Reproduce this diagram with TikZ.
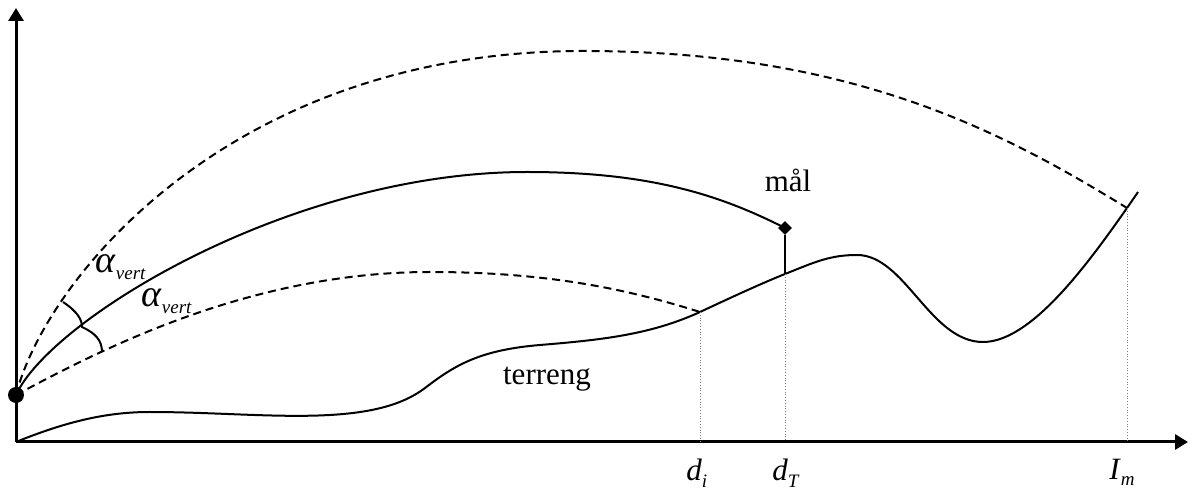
\documentclass[tikz,border=0pt]{standalone}
\usepackage{fontspec}
\setmainfont{Liberation Serif}
\usetikzlibrary{arrows.meta,shapes.geometric}
\newcommand{\idx}[2]{\textit{#1}\raisebox{-3pt}{\fontsize{9.5}{10}\selectfont\textit{#2}}}
\newcommand{\alphavert}{{\fontsize{19}{20}\selectfont\textit{α}}\raisebox{-3.5pt}{\fontsize{9.5}{10}\selectfont\textit{vert}}}
\begin{document}
\begin{tikzpicture}[x=0.5pt,y=-0.5pt,
    axis/.style={line width=1.5pt,-{Triangle[length=6.5pt,width=7.5pt]}},
    curve/.style={line width=1pt},
    traj/.style={line width=1pt,dash pattern=on 4pt off 2.5pt},
    guide/.style={gray,line width=0.4pt,densely dotted},
    lbl/.style={font=\fontsize{15.5}{18}\selectfont,inner sep=0pt}]
    \useasboundingbox (0,0) rectangle (1192,490);

    \coordinate (o) at (16,442);
    \coordinate (ytop) at (16,8);
    \coordinate (xend) at (1188,442);
    \draw[axis] (o) -- (ytop);
    \draw[axis] (o) -- (xend);

    \coordinate (ti) at (700,312);
    \coordinate (tT) at (785,274);
    \coordinate (tm) at (1127,208);

    \draw[curve] (o) .. controls (70,420) and (110,412) .. (150,412)
        .. controls (260,412) and (370,430) .. (425,388)
        .. controls (455,365) and (480,350) .. (540,345)
        .. controls (600,340) and (650,335) .. (ti)
        .. controls (730,298) and (760,284) .. (tT)
        .. controls (815,262) and (830,255) .. (857,255)
        .. controls (905,255) and (930,342) .. (983,342)
        .. controls (1030,342) and (1085,268) .. (tm) -- (1138,192);

    \node[circle,fill,inner sep=0pt,minimum size=8pt] (gun) at (16,395) {};
    \node[diamond,fill,inner sep=0pt,minimum size=7pt] (maal) at (785,228) {};

    \draw[traj] (gun.center) .. controls (45,280) and (230,51) .. (583,51)
        .. controls (850,51) and (1000,130) .. (tm);
    \draw[curve] (gun.center) .. controls (50,320) and (290,172) .. (527,172)
        .. controls (650,172) and (720,195) .. (maal.center);
    \draw[traj] (gun.center) .. controls (100,350) and (250,272) .. (430,272)
        .. controls (550,272) and (630,290) .. (ti);

    \draw[curve] (maal.south) -- (tT);
    \draw[curve] (63,302) .. controls (78,312) and (82,320) .. (82,327)
        .. controls (95,333) and (102,340) .. (102,352);

    \draw[guide] (ti) -- (ti |- o);
    \draw[guide] (tT) -- (tT |- o);
    \draw[guide] (tm) -- (tm |- o);

    \node[lbl,anchor=base west] (alphaup) at (95,273) {\alphavert};
    \node[lbl,anchor=base west] (alphalow) at (141,307) {\alphavert};
    \node[lbl,anchor=base west] (di) at (686,481) {\idx{d}{i}};
    \node[lbl,anchor=base west] (dT) at (772,481) {\idx{d}{T}};
    \node[lbl,anchor=base west] (Im) at (1109,480) {\idx{I}{m}};
    \node[lbl,anchor=base] (maltext) at (788,192) {mål};
    \node[lbl,anchor=base] (terreng) at (547,385) {terreng};
\end{tikzpicture}
\end{document}
